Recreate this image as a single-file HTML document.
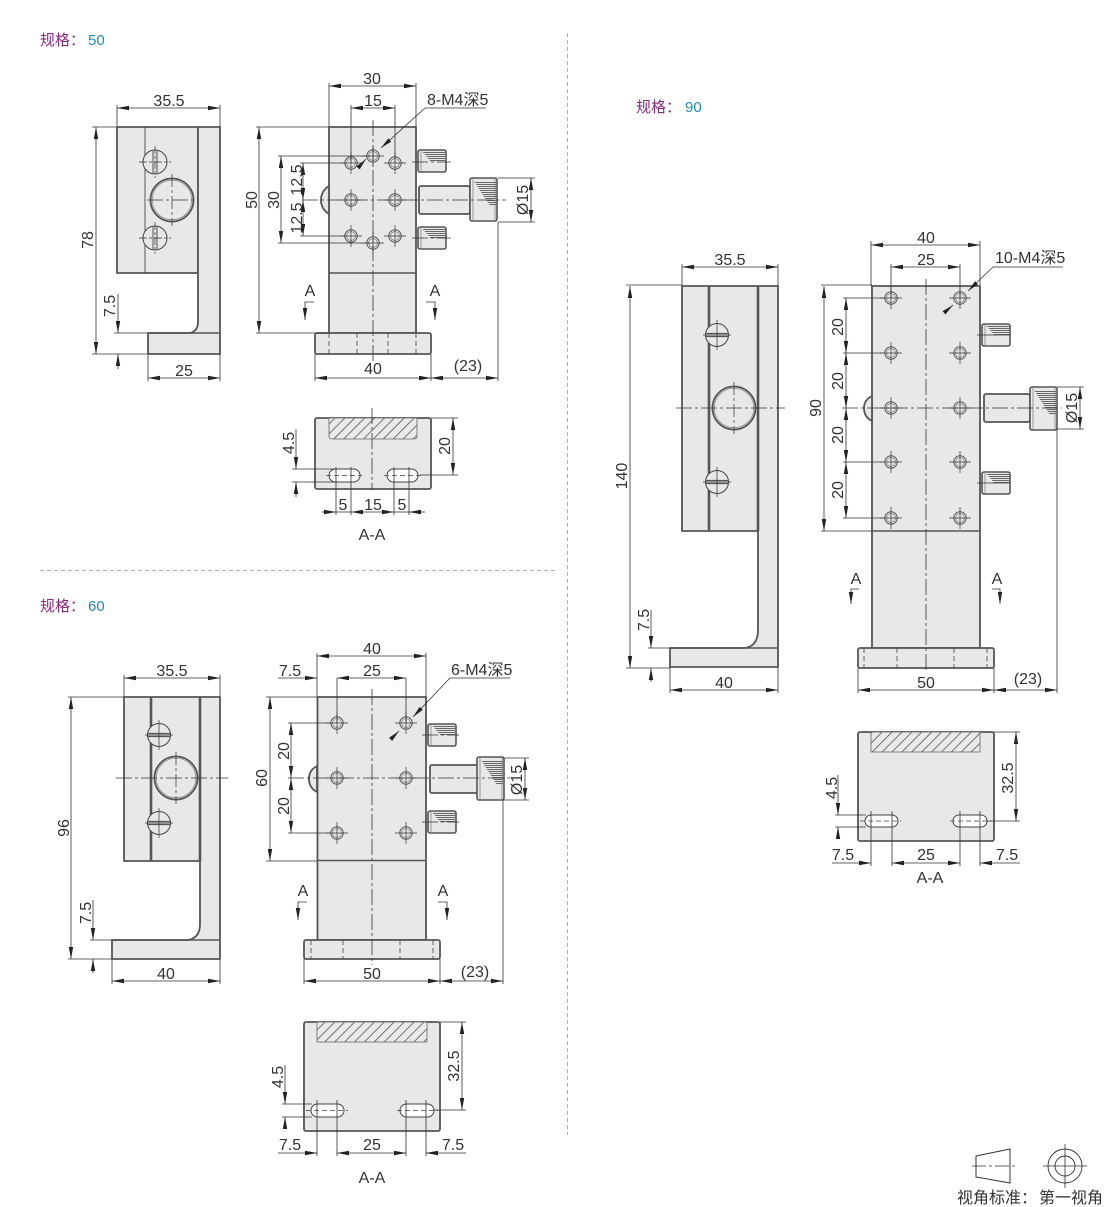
<!DOCTYPE html>
<html><head><meta charset="utf-8"><style>
html,body{margin:0;padding:0;background:#fff}
svg{display:block}
text{font-family:"Liberation Sans","Noto Sans CJK SC",sans-serif;font-size:16px;fill:#333;text-anchor:middle}
.s{text-anchor:start}
.p{fill:#e8e8ea;stroke:#555;stroke-width:1.8;stroke-linejoin:round}
.q{fill:none;stroke:#555;stroke-width:1.6}
.w{fill:none;stroke:#555;stroke-width:2.6}
.d{fill:none;stroke:#333;stroke-width:.8}
.c{fill:none;stroke:#333;stroke-width:.8;stroke-dasharray:16 3 3 3}
.h{fill:none;stroke:#444;stroke-width:.8;stroke-dasharray:5 3}
.t{font-size:15px;fill:#8c2a80}
.b{font-size:15px;fill:#1f8cb8}
</style></head><body>
<svg xmlns="http://www.w3.org/2000/svg" width="1110" height="1207" viewBox="0 0 1110 1207">
<defs>
<marker id="m" markerUnits="userSpaceOnUse" markerWidth="12" markerHeight="5" refX="12" refY="2.5" orient="auto-start-reverse"><path d="M0 .3L12 2.5L0 4.7z" fill="#222"/></marker>
<pattern id="x" width="7" height="7" patternUnits="userSpaceOnUse" patternTransform="rotate(45)"><rect width="7" height="7" fill="#eaeaec"/><rect width=".8" height="7" fill="#555"/></pattern>
<pattern id="k" width="2" height="2" patternUnits="userSpaceOnUse"><rect width="2" height="1" fill="#666"/></pattern>
<g id="hole"><circle r="6.2" fill="#e8e8ea" stroke="#555" stroke-width="1"/><circle r="4.4" fill="none" stroke="#777" stroke-width=".7"/><path d="M-11 0H11M0-11V11" stroke="#333" stroke-width=".7" fill="none"/></g>
<g id="sv"><circle r="12" fill="#e8e8ea" stroke="#444" stroke-width="1"/><path d="M-2 -11V11M2 -11V11" stroke="#555" stroke-width="1" fill="none"/><path d="M-16 0H16M0-16V16" stroke="#333" stroke-width=".7" stroke-dasharray="8 2 3 2" fill="none"/></g>
<g id="sh"><circle r="11.5" fill="#e8e8ea" stroke="#444" stroke-width="1"/><path d="M-11 -1.5H11" stroke="#555" stroke-width="1.2"/><path d="M-11 1.5H11" stroke="#555" stroke-width="1.2"/><path d="M-14 0H14M0-15V15" stroke="#333" stroke-width=".7" fill="none"/></g>
<g id="big"><circle r="21.5" fill="#e8e8ea" stroke="#555" stroke-width="1.8"/><circle r="19.8" fill="none" stroke="#777" stroke-width=".6"/><path d="M0-26V26" stroke="#333" stroke-width=".7" stroke-dasharray="13 3 3 3" fill="none"/></g>
<g id="thumb"><rect x="0" y="0" width="28" height="22" rx="2" fill="#e8e8ea" stroke="#555" stroke-width="1.6"/><path d="M4 1H27V12H13z" fill="url(#k)"/><path d="M3 1V21" stroke="#777" stroke-width=".7"/></g>
<g id="knob"><rect x="0" y="0" width="27" height="43" rx="2" fill="#e8e8ea" stroke="#555" stroke-width="1.6"/><path d="M4 3H26V28H20z" fill="url(#k)"/><path d="M3 1V42M25 1V42" stroke="#777" stroke-width=".7"/></g>
</defs>

<path d="M567.5 33V1135" stroke="#999" stroke-width=".8" stroke-dasharray="4 3"/>
<path d="M40 570.5H556" stroke="#999" stroke-width=".8" stroke-dasharray="4 3"/>

<text class="t s" x="40" y="45">规格：</text><text class="b s" x="88" y="45">50</text>
<text class="t s" x="636" y="112">规格：</text><text class="b s" x="685" y="112">90</text>
<text class="t s" x="40" y="611">规格：</text><text class="b s" x="88" y="611">60</text>

<!-- ===== 50 side ===== -->
<path class="p" d="M117 127H198V273H117z"/>
<path class="d" d="M145 127V273"/>
<path class="p" d="M198 127H220V354H148V333H190Q198 331 198 322z"/>
<path class="q" d="M148 333H220"/>
<use href="#sv" x="155" y="162"/><use href="#sv" x="155" y="238"/>
<use href="#big" x="172" y="200"/>
<path class="c" d="M147 200H198"/>
<g class="d">
<path d="M117 105V127M220 105V127M92 127H117M92 354H148M114 333H148M148 354V381M220 354V381"/>
<path d="M117 108H220" marker-start="url(#m)" marker-end="url(#m)"/>
<path d="M96 127V354" marker-start="url(#m)" marker-end="url(#m)"/>
<path d="M118 294V333" marker-end="url(#m)"/>
<path d="M118 369V354" marker-end="url(#m)"/>
<path d="M148 378H220" marker-start="url(#m)" marker-end="url(#m)"/>
</g>
<text x="169" y="106">35.5</text>
<text transform="rotate(-90 88 240)" x="88" y="245">78</text>
<text transform="rotate(-90 110 306)" x="110" y="311">7.5</text>
<text x="184" y="376">25</text>

<!-- ===== 50 front ===== -->
<path class="p" d="M329 127H416V333H329z"/>
<path class="q" d="M329 273H416"/>
<rect class="p" x="315" y="333" width="116" height="21" rx="2"/>
<path class="h" d="M329 333V354M357 333V354M388 333V354M416 333V354"/>
<path class="p" stroke-width="1" d="M329 186Q321 191 321 200Q321 209 329 214z"/>
<use href="#thumb" x="418" y="150"/><use href="#thumb" x="418" y="227"/>
<rect class="p" x="419" y="186" width="51" height="28" rx="2"/>
<use href="#knob" x="470" y="178"/>
<use href="#hole" x="351" y="163"/><use href="#hole" x="395" y="163"/><use href="#hole" x="373" y="156"/>
<use href="#hole" x="351" y="200"/><use href="#hole" x="395" y="200"/>
<use href="#hole" x="351" y="236"/><use href="#hole" x="395" y="236"/><use href="#hole" x="373" y="243"/>
<path class="c" d="M373 120V362M302 200H506M412 162H451M412 238H451"/>
<g class="d">
<path d="M329 83V127M416 83V127M351 105V163M395 105V163M256 127H329M256 333H329M278 156H370M278 243H370M300 163H345M300 236H345"/>
<path d="M329 86H416" marker-start="url(#m)" marker-end="url(#m)"/>
<path d="M351 108H395" marker-start="url(#m)" marker-end="url(#m)"/>
<path d="M486 108H425L381 148" marker-end="url(#m)"/>
<path d="M366 159L358 168" marker-start="url(#m)"/>
<path d="M259 127V333" marker-start="url(#m)" marker-end="url(#m)"/>
<path d="M281 156V243" marker-start="url(#m)" marker-end="url(#m)"/>
<path d="M303 163V200" marker-start="url(#m)" marker-end="url(#m)"/>
<path d="M303 200V236" marker-start="url(#m)" marker-end="url(#m)"/>
<path d="M498 178H535M498 222H535M498 222V381M315 354V381M431 354V381"/>
<path d="M531 178V222" marker-start="url(#m)" marker-end="url(#m)"/>
<path d="M315 378H431" marker-start="url(#m)" marker-end="url(#m)"/>
<path d="M431 378H498" marker-start="url(#m)" marker-end="url(#m)"/>
<path d="M314 302H305V320" marker-end="url(#m)"/>
<path d="M426 302H435V320" marker-end="url(#m)"/>
</g>
<text x="372" y="84">30</text><text x="373" y="106">15</text>
<text class="s" x="427" y="105">8-M4深5</text>
<text transform="rotate(-90 252 200)" x="252" y="205">50</text>
<text transform="rotate(-90 274 200)" x="274" y="205">30</text>
<text transform="rotate(-90 297 180)" x="297" y="185">12.5</text>
<text transform="rotate(-90 297 218)" x="297" y="223">12.5</text>
<text transform="rotate(-90 523 200)" x="523" y="205">Ø15</text>
<text x="373" y="374">40</text><text x="468" y="371">(23)</text>
<text x="310" y="296">A</text><text x="435" y="296">A</text>

<!-- ===== 50 A-A ===== -->
<rect class="p" x="315" y="418" width="116" height="71" rx="2"/>
<path d="M329 418H417V436Q417 439 414 439H332Q329 439 329 436z" fill="url(#x)" stroke="#666" stroke-width=".8"/>
<rect x="329" y="469" width="31" height="13" rx="6.5" fill="#fff" stroke="#444" stroke-width="1"/>
<rect x="387" y="469" width="31" height="13" rx="6.5" fill="#fff" stroke="#444" stroke-width="1"/>
<path class="c" d="M372 408V490"/>
<path class="h" d="M326 475.500H362M384 475.500H421"/>
<g class="d">
<path d="M336 467V515M351 467V515M394 467V515M409 467V515M431 418H458M420 475H458M292 469H335M292 482H335"/>
<path d="M453 418V475" marker-start="url(#m)" marker-end="url(#m)"/>
<path d="M296 429V469" marker-end="url(#m)"/><path d="M296 497V482" marker-end="url(#m)"/>
<path d="M322 512H336" marker-end="url(#m)"/><path d="M351 512H394" marker-start="url(#m)" marker-end="url(#m)"/>
<path d="M425 512H409" marker-end="url(#m)"/>
<path d="M336 512H351"/><path d="M394 512H409"/>
</g>
<text x="343" y="510">5</text><text x="373" y="510">15</text><text x="402" y="510">5</text>
<text transform="rotate(-90 445 446)" x="445" y="451">20</text>
<text transform="rotate(-90 289 443)" x="289" y="448">4.5</text>
<text x="372" y="540">A-A</text>

<!-- ===== 60 side ===== -->
<path class="p" d="M124 697H200V861H124z"/>
<path class="w" d="M151 697V861"/>
<path class="p" d="M200 697H220V959H112V940H188Q200 938 200 924z"/>
<path class="w" d="M200 697V861"/>
<path class="q" d="M112 940H220"/>
<use href="#sh" x="159" y="735"/><use href="#sh" x="159" y="823"/>
<use href="#big" x="176" y="778"/>
<path class="c" d="M116 778H228"/>
<g class="d">
<path d="M124 675V697M220 675V697M68 697H124M68 959H112M90 940H112M112 959V984M220 959V984"/>
<path d="M124 678H220" marker-start="url(#m)" marker-end="url(#m)"/>
<path d="M71 697V959" marker-start="url(#m)" marker-end="url(#m)"/>
<path d="M93 900V940" marker-end="url(#m)"/><path d="M93 973V959" marker-end="url(#m)"/>
<path d="M112 981H220" marker-start="url(#m)" marker-end="url(#m)"/>
</g>
<text x="172" y="676">35.5</text>
<text transform="rotate(-90 64 828)" x="64" y="833">96</text>
<text transform="rotate(-90 86 913)" x="86" y="918">7.5</text>
<text x="166" y="979">40</text>

<!-- ===== 60 front ===== -->
<path class="p" d="M317.500 697H426V940H317.500z"/>
<path class="q" d="M318 860.500H426"/>
<rect class="p" x="304" y="940" width="136" height="19" rx="2"/>
<path class="h" d="M311 940V959M343 940V959M400 940V959M433 940V959"/>
<path class="p" stroke-width="1" d="M317 766Q309 770 309 779Q309 788 317 792z"/>
<use href="#thumb" x="428" y="724"/><use href="#thumb" x="428" y="811"/>
<rect class="p" x="430" y="765" width="48" height="28" rx="2"/>
<use href="#knob" x="477" y="757"/>
<use href="#hole" x="337" y="723"/><use href="#hole" x="406" y="723"/>
<use href="#hole" x="337" y="778"/><use href="#hole" x="406" y="778"/>
<use href="#hole" x="337" y="833"/><use href="#hole" x="406" y="833"/>
<path class="c" d="M372 689V965M288 778H510M422 735H459M422 822H459"/>
<g class="d">
<path d="M317 653V697M426 653V697M337 678V723M406 678V723M266 697H317M266 861H317M288 723H330M288 833H330"/>
<path d="M317 656H426" marker-start="url(#m)" marker-end="url(#m)"/>
<path d="M278 678H317" marker-end="url(#m)"/>
<path d="M337 678H406" marker-start="url(#m)" marker-end="url(#m)"/>
<path d="M510 678H450L413 717" marker-end="url(#m)"/>
<path d="M399 731L392 738" marker-start="url(#m)"/>
<path d="M270 697V861" marker-start="url(#m)" marker-end="url(#m)"/>
<path d="M291 723V778" marker-start="url(#m)" marker-end="url(#m)"/>
<path d="M291 778V833" marker-start="url(#m)" marker-end="url(#m)"/>
<path d="M503 758H529M503 800H529M503 800V984M304 959V984M440 959V984"/>
<path d="M525 758V800" marker-start="url(#m)" marker-end="url(#m)"/>
<path d="M304 981H440" marker-start="url(#m)" marker-end="url(#m)"/>
<path d="M440 981H503" marker-start="url(#m)" marker-end="url(#m)"/>
<path d="M307 902H298V920" marker-end="url(#m)"/>
<path d="M438 902H447V920" marker-end="url(#m)"/>
</g>
<text x="372" y="654">40</text><text x="290" y="676">7.5</text><text x="372" y="676">25</text>
<text class="s" x="451" y="675">6-M4深5</text>
<text transform="rotate(-90 262 778)" x="262" y="783">60</text>
<text transform="rotate(-90 284 751)" x="284" y="756">20</text>
<text transform="rotate(-90 284 806)" x="284" y="811">20</text>
<text transform="rotate(-90 517 780)" x="517" y="785">Ø15</text>
<text x="372" y="979">50</text><text x="475" y="977">(23)</text>
<text x="303" y="896">A</text><text x="443" y="896">A</text>

<!-- ===== 60 A-A ===== -->
<rect class="p" x="304" y="1022" width="136" height="109" rx="2"/>
<rect x="317" y="1022" width="110" height="20" fill="url(#x)" stroke="#666" stroke-width=".8"/>
<rect x="311" y="1104" width="33" height="13" rx="6.5" fill="#fff" stroke="#444" stroke-width="1"/>
<rect x="400" y="1104" width="34" height="13" rx="6.500" fill="#fff" stroke="#444" stroke-width="1"/>
<path class="h" d="M306 1110.500H348M397 1110.500H438"/>
<g class="d">
<path d="M317 1100V1156M337 1100V1156M406 1100V1156M426 1100V1156M440 1022H466M434 1110H466M282 1104H312M282 1117H312"/>
<path d="M462 1022V1110" marker-start="url(#m)" marker-end="url(#m)"/>
<path d="M285 1065V1104" marker-end="url(#m)"/><path d="M285 1128V1117" marker-end="url(#m)"/>
<path d="M278 1153H317" marker-end="url(#m)"/>
<path d="M337 1153H406" marker-start="url(#m)" marker-end="url(#m)"/>
<path d="M466 1153H426" marker-end="url(#m)"/>
</g>
<text x="290" y="1150">7.5</text><text x="372" y="1150">25</text><text x="453" y="1150">7.5</text>
<text transform="rotate(-90 454 1066)" x="454" y="1071">32.5</text>
<text transform="rotate(-90 278 1077)" x="278" y="1082">4.5</text>
<text x="372" y="1183">A-A</text>

<!-- ===== 90 side ===== -->
<path class="p" d="M682 286H758V531H682z"/>
<path class="w" d="M709 286V531"/>
<path class="p" d="M758 286H778V667H670V648H745Q758 646 758 630z"/>
<path class="w" d="M758 286V531"/>
<path class="q" d="M670 648H778"/>
<use href="#sh" x="717" y="335"/><use href="#sh" x="717" y="482"/>
<use href="#big" x="734" y="408"/>
<path class="c" d="M676 408H785"/>
<g class="d">
<path d="M682 264V286M778 264V286M626 285H682M626 668H670M648 648H670M670 667V693M778 667V693"/>
<path d="M682 267H778" marker-start="url(#m)" marker-end="url(#m)"/>
<path d="M630 286V668" marker-start="url(#m)" marker-end="url(#m)"/>
<path d="M651 610V648" marker-end="url(#m)"/><path d="M651 682V668" marker-end="url(#m)"/>
<path d="M670 690H778" marker-start="url(#m)" marker-end="url(#m)"/>
</g>
<text x="730" y="265">35.5</text>
<text transform="rotate(-90 622 476)" x="622" y="481">140</text>
<text transform="rotate(-90 644 620)" x="644" y="625">7.5</text>
<text x="724" y="688">40</text>

<!-- ===== 90 front ===== -->
<path class="p" d="M872 286H980V648H872z"/>
<path class="q" d="M872 531H980"/>
<rect class="p" x="858" y="648" width="136" height="20" rx="2"/>
<path class="h" d="M864 648V668M897 648V668M954 648V668M987 648V668"/>
<path class="p" stroke-width="1" d="M872 396Q864 400 864 408Q864 417 872 421z"/>
<use href="#thumb" x="982" y="324"/><use href="#thumb" x="982" y="472"/>
<rect class="p" x="984" y="394" width="46" height="28" rx="2"/>
<use href="#knob" x="1030" y="387"/>
<use href="#hole" x="891" y="298"/><use href="#hole" x="960" y="298"/>
<use href="#hole" x="891" y="353"/><use href="#hole" x="960" y="353"/>
<use href="#hole" x="891" y="408"/><use href="#hole" x="960" y="408"/>
<use href="#hole" x="891" y="462"/><use href="#hole" x="960" y="462"/>
<use href="#hole" x="891" y="518"/><use href="#hole" x="960" y="518"/>
<path class="c" d="M926 279V672M842 408H1062"/>
<path class="d" d="M977 335H1010M977 483H1010"/>
<g class="d">
<path d="M871 241V286M980 241V286M891 264V298M960 264V298M821 285H872M821 531H872M843 298H883M843 353H882M843 462H882M843 518H883"/>
<path d="M871 245H980" marker-start="url(#m)" marker-end="url(#m)"/>
<path d="M891 267H960" marker-start="url(#m)" marker-end="url(#m)"/>
<path d="M1063 267H993L968 291" marker-end="url(#m)"/>
<path d="M953 305L945 312" marker-start="url(#m)"/>
<path d="M824 286V531" marker-start="url(#m)" marker-end="url(#m)"/>
<path d="M846 298V353" marker-start="url(#m)" marker-end="url(#m)"/>
<path d="M846 353V408" marker-start="url(#m)" marker-end="url(#m)"/>
<path d="M846 408V462" marker-start="url(#m)" marker-end="url(#m)"/>
<path d="M846 462V518" marker-start="url(#m)" marker-end="url(#m)"/>
<path d="M1057 387H1084M1057 429H1084M1057 429V693M858 668V693M994 668V693"/>
<path d="M1080 387V429" marker-start="url(#m)" marker-end="url(#m)"/>
<path d="M858 690H994" marker-start="url(#m)" marker-end="url(#m)"/>
<path d="M994 690H1057" marker-start="url(#m)" marker-end="url(#m)"/>
<path d="M859 589H851V604" marker-end="url(#m)"/>
<path d="M992 589H1000V604" marker-end="url(#m)"/>
</g>
<text x="926" y="243">40</text><text x="926" y="265">25</text>
<text class="s" x="995" y="263">10-M4深5</text>
<text transform="rotate(-90 816 408)" x="816" y="413">90</text>
<text transform="rotate(-90 838 327)" x="838" y="332">20</text>
<text transform="rotate(-90 838 381)" x="838" y="386">20</text>
<text transform="rotate(-90 838 435)" x="838" y="440">20</text>
<text transform="rotate(-90 838 490)" x="838" y="495">20</text>
<text transform="rotate(-90 1072 408)" x="1072" y="413">Ø15</text>
<text x="926" y="688">50</text><text x="1028" y="684">(23)</text>
<text x="856" y="584">A</text><text x="997" y="584">A</text>

<!-- ===== 90 A-A ===== -->
<rect class="p" x="858" y="732" width="136" height="109" rx="2"/>
<rect x="871" y="732" width="109" height="20" fill="url(#x)" stroke="#666" stroke-width=".8"/>
<rect x="865" y="815" width="33" height="12" rx="6" fill="#fff" stroke="#444" stroke-width="1"/>
<rect x="953" y="815" width="34" height="12" rx="6" fill="#fff" stroke="#444" stroke-width="1"/>
<path class="h" d="M860 821H901M950 821H992"/>
<g class="d">
<path d="M871 811V866M892 811V866M960 811V866M980 811V866M994 732H1020M987 821H1020M835 815H866M835 827H866"/>
<path d="M1016 732V821" marker-start="url(#m)" marker-end="url(#m)"/>
<path d="M838 775V815" marker-end="url(#m)"/><path d="M838 838V827" marker-end="url(#m)"/>
<path d="M832 863H871" marker-end="url(#m)"/>
<path d="M892 863H960" marker-start="url(#m)" marker-end="url(#m)"/>
<path d="M1020 863H980" marker-end="url(#m)"/>
</g>
<text x="843" y="860">7.5</text><text x="926" y="860">25</text><text x="1007" y="860">7.5</text>
<text transform="rotate(-90 1008 778)" x="1008" y="783">32.5</text>
<text transform="rotate(-90 832 788)" x="832" y="793">4.5</text>
<text x="930" y="883">A-A</text>

<!-- ===== legend ===== -->
<path d="M976 1156L1010 1149V1183L976 1177z" fill="none" stroke="#333" stroke-width="1"/>
<path d="M972 1166H1015" stroke="#333" stroke-width=".8" stroke-dasharray="14 3 3 3" fill="none"/>
<circle cx="1065" cy="1166" r="17" fill="none" stroke="#333" stroke-width=".9"/>
<circle cx="1065" cy="1166" r="10" fill="none" stroke="#333" stroke-width=".9"/>
<path d="M1043 1166H1087M1065 1144V1188" stroke="#333" stroke-width=".8" fill="none"/>
<text class="s" style="font-size:16px" x="957" y="1203">视角标准：</text>
<text class="s" style="font-size:16px" x="1039" y="1203">第一视角</text>
</svg>
</body></html>
